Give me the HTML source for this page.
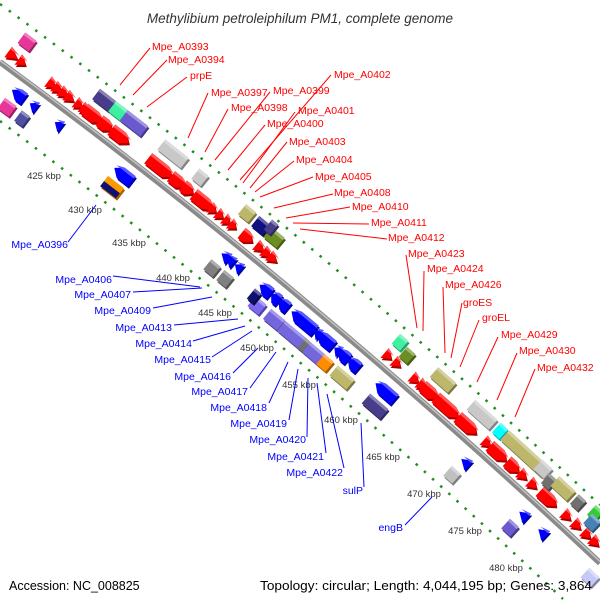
<!DOCTYPE html>
<html><head><meta charset="utf-8"><style>
html,body{margin:0;padding:0;background:#fff;overflow:hidden;width:600px;height:600px;}
svg{display:block;overflow:hidden;}
text{font-family:"Liberation Sans",sans-serif;}
.r{fill:#ff0000;font-size:10.5px;}
.b{fill:#0000ff;font-size:10.5px;}
.k{fill:#333;font-size:9.5px;}
.rl{stroke:#ff0000;stroke-width:1;fill:none;}
.bl{stroke:#0000ff;stroke-width:1;fill:none;}
</style></head><body>
<svg id="s" width="600" height="600" viewBox="0 0 600 600" xmlns="http://www.w3.org/2000/svg">
<rect width="600" height="600" fill="#fff"/>
<path d="M0,4 Q300,223.7 600,505" fill="none" stroke="#1f8f1f" stroke-width="2.5" stroke-dasharray="2.5 8.5"/>
<path d="M0,121 Q281.5,333.4 563,599" fill="none" stroke="#1f8f1f" stroke-width="2.5" stroke-dasharray="2.5 8.5"/>
<path d="M0,62 Q300,281.7 600,563" fill="none" stroke="#8a8a8a" stroke-width="6"/>
<path d="M0,60.5 Q300,280 600,561.5" fill="none" stroke="#c4c4c4" stroke-width="1.5"/>
<g id="genes"></g>

<text x="300" y="23" text-anchor="middle" font-style="italic" font-size="13.5" fill="#333">Methylibium petroleiphilum PM1, complete genome</text>

<g class="k" text-anchor="middle">
<text x="44" y="179">425 kbp</text>
<text x="85" y="213">430 kbp</text>
<text x="129" y="246">435 kbp</text>
<text x="173" y="281">440 kbp</text>
<text x="215" y="316">445 kbp</text>
<text x="257" y="351">450 kbp</text>
<text x="299" y="388">455 kbp</text>
<text x="341" y="423">460 kbp</text>
<text x="383" y="460">465 kbp</text>
<text x="424" y="497">470 kbp</text>
<text x="465" y="534">475 kbp</text>
<text x="506" y="571">480 kbp</text>
</g>

<g class="rl">
<line x1="150" y1="48" x2="120" y2="85"/>
<line x1="167" y1="60" x2="133" y2="95"/>
<line x1="187" y1="77" x2="147" y2="107"/>
<line x1="208" y1="93" x2="188" y2="138"/>
<line x1="228" y1="109" x2="205" y2="152"/>
<line x1="270" y1="92" x2="215" y2="160"/>
<line x1="331" y1="75" x2="240" y2="180"/>
<line x1="295" y1="112" x2="243" y2="183"/>
<line x1="265" y1="125" x2="228" y2="170"/>
<line x1="287" y1="142" x2="250" y2="188"/>
<line x1="294" y1="161" x2="255" y2="192"/>
<line x1="313" y1="177" x2="260" y2="197"/>
<line x1="333" y1="194" x2="274" y2="208"/>
<line x1="350" y1="207" x2="286" y2="218"/>
<line x1="369" y1="224" x2="293" y2="223"/>
<line x1="387" y1="239" x2="300" y2="229"/>
<line x1="406" y1="255" x2="417" y2="328"/>
<line x1="424" y1="271" x2="423" y2="331"/>
<line x1="443" y1="287" x2="445" y2="353"/>
<line x1="462" y1="303" x2="451" y2="358"/>
<line x1="479" y1="320" x2="460" y2="367"/>
<line x1="498" y1="337" x2="477" y2="382"/>
<line x1="517" y1="353" x2="497" y2="400"/>
<line x1="535" y1="369" x2="515" y2="417"/>
</g>
<g class="r">
<text x="152" y="50">Mpe_A0393</text>
<text x="168" y="63">Mpe_A0394</text>
<text x="190" y="79">prpE</text>
<text x="211" y="96">Mpe_A0397</text>
<text x="273" y="94">Mpe_A0399</text>
<text x="231" y="111">Mpe_A0398</text>
<text x="334" y="78">Mpe_A0402</text>
<text x="298" y="114">Mpe_A0401</text>
<text x="267" y="127">Mpe_A0400</text>
<text x="289" y="145">Mpe_A0403</text>
<text x="296" y="163">Mpe_A0404</text>
<text x="315" y="180">Mpe_A0405</text>
<text x="334" y="196">Mpe_A0408</text>
<text x="352" y="210">Mpe_A0410</text>
<text x="371" y="226">Mpe_A0411</text>
<text x="388" y="241">Mpe_A0412</text>
<text x="408" y="257">Mpe_A0423</text>
<text x="427" y="272">Mpe_A0424</text>
<text x="445" y="288">Mpe_A0426</text>
<text x="463" y="306">groES</text>
<text x="482" y="321">groEL</text>
<text x="501" y="338">Mpe_A0429</text>
<text x="519" y="354">Mpe_A0430</text>
<text x="537" y="371">Mpe_A0432</text>
</g>

<g class="bl">
<line x1="68" y1="242" x2="96" y2="205"/>
<line x1="113" y1="276" x2="200" y2="287"/>
<line x1="133" y1="292" x2="202" y2="288"/>
<line x1="153" y1="308" x2="212" y2="297"/>
<line x1="174" y1="325" x2="238" y2="319"/>
<line x1="193" y1="341" x2="245" y2="326"/>
<line x1="212" y1="357" x2="252" y2="331"/>
<line x1="233" y1="373" x2="258" y2="348"/>
<line x1="250" y1="388" x2="276" y2="352"/>
<line x1="269" y1="403" x2="288" y2="362"/>
<line x1="289" y1="420" x2="298" y2="369"/>
<line x1="307" y1="437" x2="308" y2="378"/>
<line x1="326" y1="453" x2="317" y2="383"/>
<line x1="344" y1="468" x2="327" y2="394"/>
<line x1="364" y1="487" x2="361" y2="423"/>
<line x1="405" y1="525" x2="432" y2="497"/>
</g>
<g class="b" text-anchor="end">
<text x="68" y="248">Mpe_A0396</text>
<text x="112" y="283">Mpe_A0406</text>
<text x="131" y="298">Mpe_A0407</text>
<text x="151" y="314">Mpe_A0409</text>
<text x="172" y="331">Mpe_A0413</text>
<text x="192" y="347">Mpe_A0414</text>
<text x="211" y="363">Mpe_A0415</text>
<text x="231" y="380">Mpe_A0416</text>
<text x="248" y="395">Mpe_A0417</text>
<text x="267" y="411">Mpe_A0418</text>
<text x="287" y="427">Mpe_A0419</text>
<text x="306" y="443">Mpe_A0420</text>
<text x="324" y="460">Mpe_A0421</text>
<text x="343" y="476">Mpe_A0422</text>
<text x="363" y="494">sulP</text>
<text x="403" y="531">engB</text>
</g>

<text x="9" y="590" font-size="12.5" fill="#000">Accession: NC_008825</text>
<text x="260" y="590" font-size="13" fill="#000" textLength="332" lengthAdjust="spacingAndGlyphs">Topology: circular; Length: 4,044,195 bp; Genes: 3,864</text>
</svg>
<script>
(function(){
var NS="http://www.w3.org/2000/svg";
var g=document.getElementById("genes");
function yb(x){return 62+0.7324*x+0.000171*x*x;}
function ang(x){return Math.atan(0.7324+0.000342*x)*180/Math.PI;}
function shade(c,f){var n=parseInt(c.slice(1),16);var r=(n>>16)&255,gg=(n>>8)&255,b=n&255;
 function m(v){return Math.max(0,Math.min(255,Math.round(f>1?v+(255-v)*(f-1):v*f)));}
 return "rgb("+m(r)+","+m(gg)+","+m(b)+")";}
function pts(type,L,w){var a=L/2,h=w/2,hd=Math.min(8,L*0.55);
 if(type=="r")return [[-a,-h],[a-hd,-h],[a,0],[a-hd,h],[-a,h]];
 if(type=="l")return [[a,-h],[-a+hd,-h],[-a,0],[-a+hd,h],[a,h]];
 if(type=="s")return [[-a,-h],[a,0],[-a,h]];
 if(type=="t")return [[a,-h],[-a,0],[a,h]];
 return [[-a,-h],[a,-h],[a,h],[-a,h]];}
function poly(p,fill,dx,dy){var e=document.createElementNS(NS,"polygon");
 e.setAttribute("points",p.map(function(q){return (q[0]+dx)+","+(q[1]+dy);}).join(" "));
 e.setAttribute("fill",fill);return e;}
function gene(x,off,L,type,col,col2){
 var y=yb(x)+off,w=13;
 if(y>594)return;
 var gr=document.createElementNS(NS,"g");
 gr.setAttribute("transform","translate("+x+","+y+") rotate("+ang(x)+")");
 var p=pts(type,L,w);
 var sh=document.createElementNS(NS,"g");
 sh.setAttribute("transform","rotate("+(-ang(x))+") translate(1.2,2.2) rotate("+ang(x)+")");
 sh.appendChild(poly(p,shade(col,0.65),0,0));
 gr.appendChild(sh);
 gr.appendChild(poly(p,col,0,0));
 if(col2){var p2=pts("box",L,w/2);gr.appendChild(poly(p2,col2,0,w/4));}
 else{
  var top=poly(pts(type,L,w).map(function(q){return [q[0],Math.min(q[1],-w/2+3)];}),shade(col,1.35),0,0);
  gr.appendChild(top);}
 g.appendChild(gr);}
var R="#ff0000",B="#0000ff";
[[13,12,"s"],[22,9,"s"],[52,10,"s"],[58,10,"s"],[64,10,"s"],[70,10,"s"],[79,9,"s"],[85,9,"s"],
 [93,22,"r"],[106,16,"r"],[120,22,"r"],[160,30,"r"],[178,18,"r"],[188,13,"r"],[203,24,"r"],
 [213,8,"s"],[220,8,"s"],[227,8,"s"],[233,8,"s"],[247,14,"r"],[260,10,"s"],[267,10,"s"],[273,10,"s"],
 [388,9,"s"],[397,9,"s"],[415,9,"s"],[422,9,"s"],[430,20,"r"],[447,30,"r"],[467,25,"r"],[487,9,"s"],
 [498,22,"r"],[513,16,"r"],[523,10,"s"],[533,10,"s"],[548,22,"r"],[567,10,"s"],[577,10,"s"],[587,10,"s"],[595,10,"s"]
].forEach(function(a){gene(a[0],-16,a[1],a[2],R);});
[[27,14,"#e8359a",-40],[104,20,"#483d8b",-40],[118,15,"#3cf0a0",-40],[134,26,"#6a5acd",-40],
 [173,30,"#c8c8c8",-40],[200,12,"#c8c8c8",-38],[247,13,"#bdb76b",-40],[261,15,"#101080",-39],
 [274,17,"#6b8e23",-38],[271,8,"#483d8b",-46],
 [400,11,"#40f0a0",-40],[407,11,"#6b8e23",-33],[443,24,"#bdb76b",-40],[482,30,"#c8c8c8",-40],
 [500,10,"#00ffff",-40],[525,55,"#bdb76b",-40],[543,14,"#c8c8c8",-41],[549,10,"#707070",-34],
 [563,22,"#bdb76b",-40],[578,10,"#707070",-40],[595,10,"#33cc33",-45],[592,12,"#4682b4",-33]
].forEach(function(a){gene(a[0],a[3],a[1],"box",a[2]);});
[[18,15,"l"],[33,8,"t"],[58,8,"t"],[123,22,"l"],[225,9,"t"],[230,9,"t"],[238,8,"t"],[265,14,"l"],
 [275,10,"l"],[283,12,"l"],[303,30,"l"],[317,7,"t"],[325,20,"l"],[337,7,"t"],[343,13,"l"],[353,14,"l"],
 [385,25,"l"],[465,10,"t"],[523,10,"t"],[542,10,"t"]
].forEach(function(a){gene(a[0],19+0.008*a[0],a[1],a[2],B);});
gene(590,19+0.008*590,14,"box","#c8c8f8");
[[7,14,"#e8359a"],[22,10,"#5050a0"],[212,12,"#808080"],[225,12,"#808080"],[257,14,"#7b68ee"],
 [274,18,"#7466dd"],[292,28,"#7466dd"],[304,6,"#707070"],[314,20,"#7466dd"],[325,12,"#ff8c00"],
 [342,22,"#bdb76b"],[375,24,"#483d8b"],[452,12,"#c0c0c0"],[510,12,"#6a5acd"]
].forEach(function(a){gene(a[0],40+0.015*a[0],a[1],"box",a[2]);});
gene(112,41,20,"box","#ff9900","#101070");
gene(254,37,8,"box","#101070");
})();
</script>
</body></html>
